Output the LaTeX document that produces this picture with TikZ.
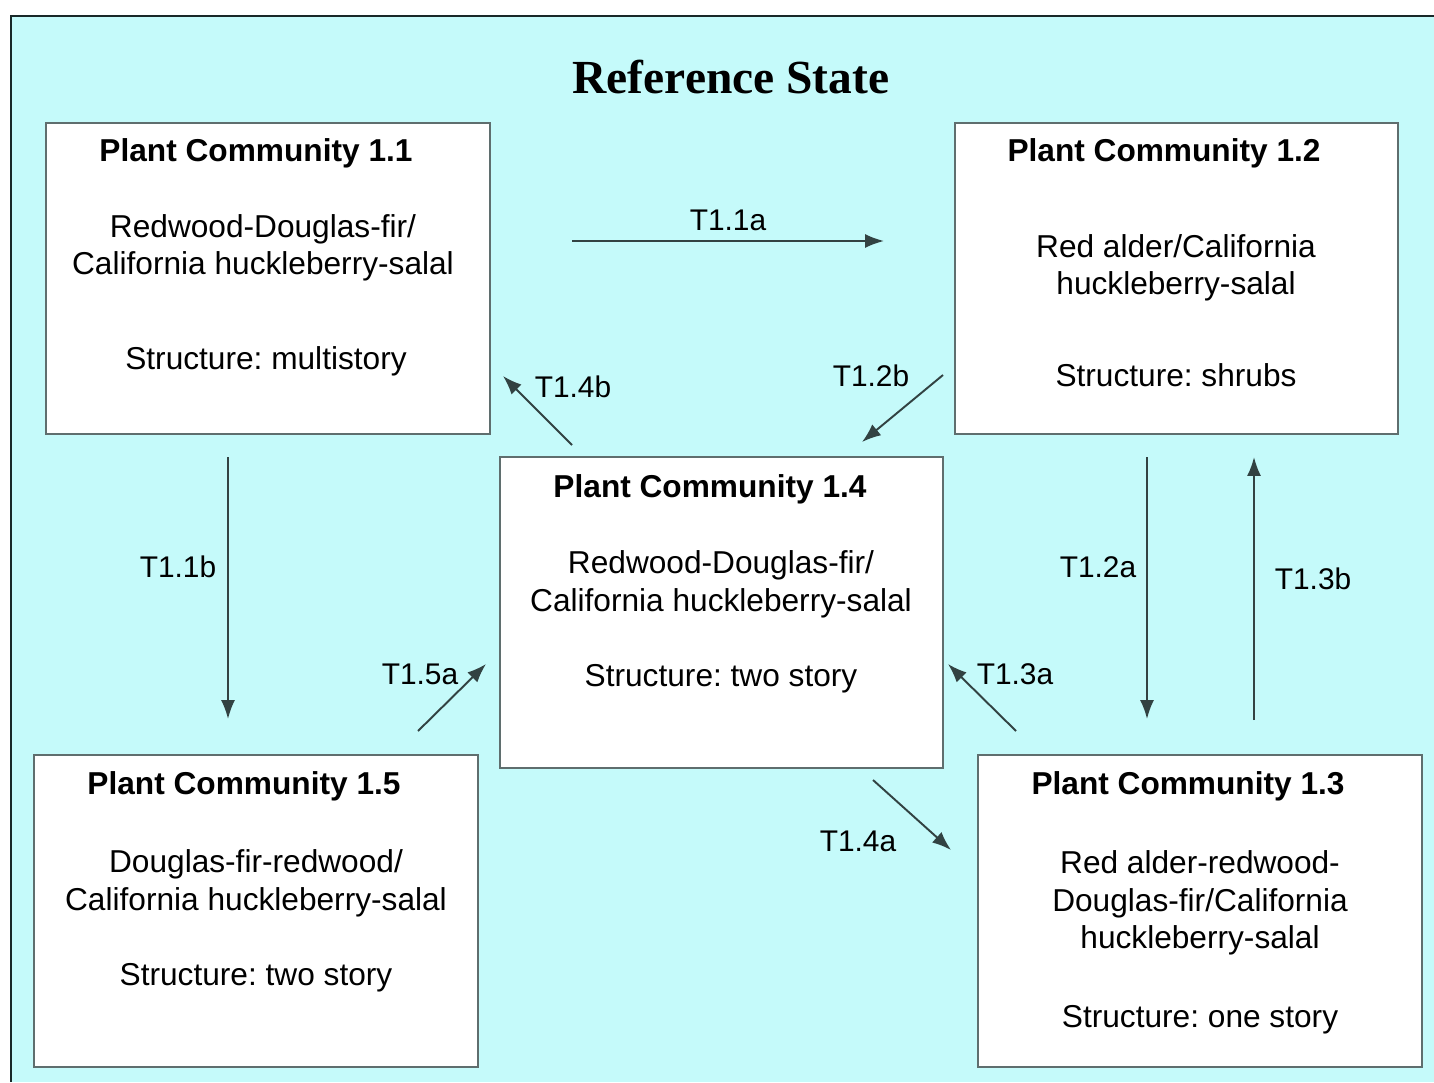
\documentclass[tikz,border=0pt]{standalone}
\usepackage{fontspec}
\setmainfont{Liberation Sans}
\newfontfamily\headfont{Liberation Serif}
\usetikzlibrary{arrows.meta}
\frenchspacing
\definecolor{skycyan}{RGB}{197,250,250}
\definecolor{boxline}{RGB}{95,110,110}
\definecolor{arrline}{RGB}{50,66,66}
\definecolor{frameline}{RGB}{25,40,40}
\tikzset{
  pcbox/.style={draw=boxline, line width=0.6pt, fill=white, minimum width=4.43cm, minimum height=3.11cm, inner sep=0pt},
  pchead/.style={font=\fontsize{9}{10.8}\selectfont\bfseries, inner sep=0pt, yshift=-0.8pt},
  pctext/.style={font=\fontsize{9}{10.8}\selectfont, align=center, inner sep=0pt, yshift=-0.8pt},
  trans/.style={draw=arrline, line width=0.55pt, -{Latex[length=5.4pt,width=4pt]}},
  tlabel/.style={font=\fontsize{8.5}{10}\selectfont, inner sep=0pt, yshift=-0.6pt}
}

\begin{document}
\begin{tikzpicture}[x=0.01cm, y=-0.01cm]
			%%%%% START %%%%%
			
			\fill[white] (0, 0) rectangle (1434, 1082);
			\useasboundingbox (0, 0) rectangle (1434, 1082);
			\fill[skycyan] (11, 16) rectangle (1434, 1082);
			\draw[frameline, line width=0.85pt] (11, 1082) -- (11, 16) -- (1434, 16);
			
			\node[font=\headfont\fontsize{13.5}{16}\selectfont\bfseries, inner sep=0pt] (title) at (731, 77) {Reference State};
			
			% boxes
			\node[pcbox] (pc11) at (268, 278.5) {};
			\node[pcbox] (pc12) at (1176.5, 278.5) {};
			\node[pcbox] (pc14) at (721.5, 612.5) {};
			\node[pcbox] (pc15) at (256, 911) {};
			\node[pcbox] (pc13) at (1200, 911) {};
			
			\node[pchead] (pc11h) at (256, 151) {Plant Community 1.1};
			\node[pctext] (pc11b) at (263, 245) {Redwood-Douglas-fir/\\California huckleberry-salal};
			\node[pctext] (pc11s) at (266, 359) {Structure: multistory};
			
			\node[pchead] (pc12h) at (1164, 151) {Plant Community 1.2};
			\node[pctext] (pc12b) at (1176, 265) {Red alder/California\\huckleberry-salal};
			\node[pctext] (pc12s) at (1176, 372) {Structure: shrubs};
			
			\node[pchead] (pc14h) at (710, 486) {Plant Community 1.4};
			\node[pctext] (pc14b) at (721, 581.5) {Redwood-Douglas-fir/\\California huckleberry-salal};
			\node[pctext] (pc14s) at (721, 676) {Structure: two story};
			
			\node[pchead] (pc15h) at (244, 783) {Plant Community 1.5};
			\node[pctext] (pc15b) at (256, 880.5) {Douglas-fir-redwood/\\California huckleberry-salal};
			\node[pctext] (pc15s) at (256, 975) {Structure: two story};
			
			\node[pchead] (pc13h) at (1188, 783) {Plant Community 1.3};
			\node[pctext] (pc13b) at (1200, 900) {Red alder-redwood-\\Douglas-fir/California\\huckleberry-salal};
			\node[pctext] (pc13s) at (1200, 1017) {Structure: one story};
			
			% transitions
			\coordinate (t11as) at (572, 241);
			\coordinate (t11ae) at (884, 241);
			\coordinate (t14bs) at (572, 445);
			\coordinate (t14be) at (503, 376);
			\coordinate (t12bs) at (943, 375);
			\coordinate (t12be) at (862, 442);
			\coordinate (t11bs) at (228, 457);
			\coordinate (t11be) at (228, 719);
			\coordinate (t12as) at (1147, 457);
			\coordinate (t12ae) at (1147, 719);
			\coordinate (t13bs) at (1254, 720);
			\coordinate (t13be) at (1254, 457);
			\coordinate (t15as) at (418, 731);
			\coordinate (t15ae) at (486, 664);
			\coordinate (t13as) at (1016, 731);
			\coordinate (t13ae) at (948, 664);
			\coordinate (t14as) at (873, 780);
			\coordinate (t14ae) at (951, 850);
			
			\draw[trans] (t11as) -- (t11ae);
			\draw[trans] (t14bs) -- (t14be);
			\draw[trans] (t12bs) -- (t12be);
			\draw[trans] (t11bs) -- (t11be);
			\draw[trans] (t12as) -- (t12ae);
			\draw[trans] (t13bs) -- (t13be);
			\draw[trans] (t15as) -- (t15ae);
			\draw[trans] (t13as) -- (t13ae);
			\draw[trans] (t14as) -- (t14ae);
			
			\node[tlabel] (l11a) at (728, 218) {T1.1a};
			\node[tlabel] (l14b) at (573, 385) {T1.4b};
			\node[tlabel] (l12b) at (871, 374) {T1.2b};
			\node[tlabel] (l11b) at (178, 565) {T1.1b};
			\node[tlabel] (l12a) at (1098, 565) {T1.2a};
			\node[tlabel] (l13b) at (1313, 577) {T1.3b};
			\node[tlabel] (l15a) at (420, 672) {T1.5a};
			\node[tlabel] (l13a) at (1015, 672) {T1.3a};
			\node[tlabel] (l14a) at (858, 839) {T1.4a};
			
			%%%%% END %%%%%
\end{tikzpicture}
\end{document}
